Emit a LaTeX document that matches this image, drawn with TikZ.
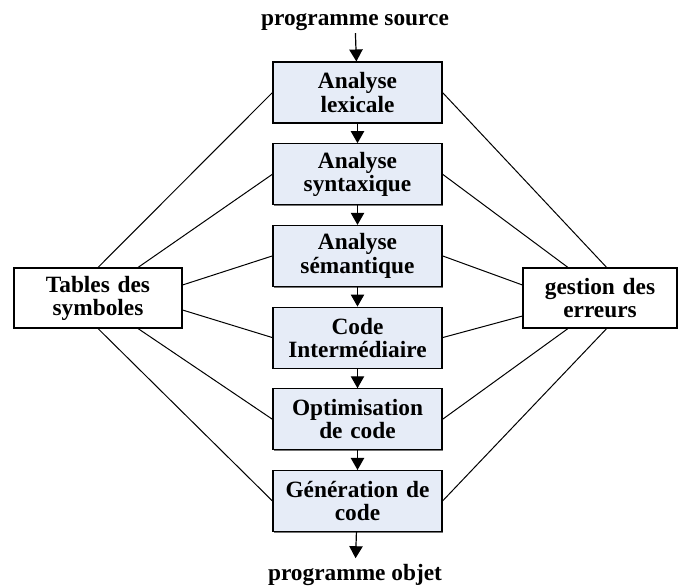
\documentclass[tikz,border=0pt]{standalone}
\usepackage{fontspec}
\setmainfont{Liberation Serif}
\usepackage{tikz}
\usetikzlibrary{arrows.meta}
\usetikzlibrary{shadows}

\definecolor{phasefill}{RGB}{230,236,247}

\tikzset{
    phase/.style={draw, fill=phasefill, line width=0.8pt, align=center,
        text width=116pt, minimum width=126.75pt, minimum height=45.75pt,
        inner sep=0pt,
        drop shadow={shadow xshift=0.9pt, shadow yshift=-0.9pt, fill=black!55, opacity=1}},
    sidebox/.style={draw, fill=white, line width=0.8pt, align=center,
        text width=112pt, minimum height=45pt, inner sep=0pt,
        drop shadow={shadow xshift=0.9pt, shadow yshift=-0.9pt, fill=black!55, opacity=1}},
    flow/.style={line width=0.9pt, -{Triangle[width=10pt,length=9pt]}},
    link/.style={line width=0.75pt}
}

\begin{document}
\begin{tikzpicture}[x=0.75pt, y=-0.75pt, font=\fontsize{17.5}{17.3}\selectfont\bfseries]
        \useasboundingbox (0,0) rectangle (678,586);
        % phases
        \node[phase] (lex)   at (357.5,92.5)  {Analyse\\lexicale};
        \node[phase] (synt)  at (357.5,174.2) {Analyse\\syntaxique};
        \node[phase] (sem)   at (357.5,255.9) {Analyse\\sémantique};
        \node[phase] (inter) at (357.5,337.6) {Code\\Intermédiaire};
        \node[phase] (optim) at (357.5,419.3) {Optimisation\\de code};
        \node[phase] (gen)   at (357.5,501)   {Génération de\\code};
        % side boxes
        \node[sidebox, minimum width=126pt] (tab) at (98,298)  {Tables des\\symboles};
        \node[sidebox, minimum width=115.5pt] (err) at (600,298) {gestion des\\erreurs};
        % input / output
        \node[anchor=base, inner sep=2pt] (src) at (355,25)  {programme source};
        \node[anchor=base, inner sep=4pt] (obj) at (355,580) {programme objet};
        \draw[flow] (src) -- (lex);
        \foreach \a/\b in {lex/synt, synt/sem, sem/inter, inter/optim, optim/gen}
            \draw[flow] (\a) -- (\b);
        \draw[flow] (gen) -- (obj);
        % links to the symbol table
        \draw[link] (tab.north) -- (lex.west);
        \draw[link] ([xshift=30pt]tab.north) -- (synt.west);
        \draw[link] ([yshift=9.75pt]tab.east) -- (sem.west);
        \draw[link] ([yshift=-9pt]tab.east) -- (inter.west);
        \draw[link] ([xshift=30pt]tab.south) -- (optim.west);
        \draw[link] (tab.south) -- (gen.west);
        % links to error handling
        \draw[link] ([xshift=5pt]err.north) -- (lex.east);
        \draw[link] ([xshift=-24pt]err.north) -- (synt.east);
        \draw[link] ([yshift=9.75pt]err.west) -- (sem.east);
        \draw[link] ([yshift=-13.5pt]err.west) -- (inter.east);
        \draw[link] ([xshift=-24pt]err.south) -- (optim.east);
        \draw[link] ([xshift=5pt]err.south) -- (gen.east);
    \end{tikzpicture}
\end{document}
